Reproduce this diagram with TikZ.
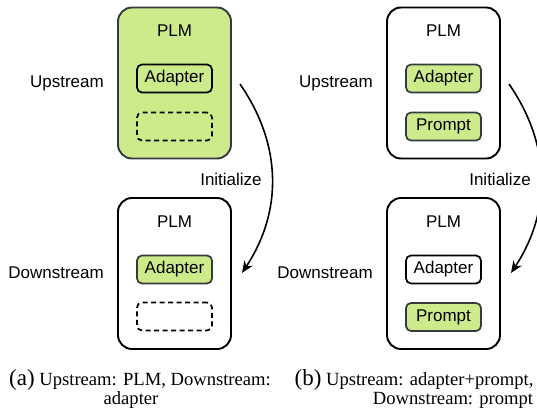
\documentclass[tikz,border=0pt]{standalone}
\usepackage{fontspec}
\setmainfont{Liberation Serif}
\newfontfamily\diagfont{Liberation Sans}
\usetikzlibrary{arrows.meta}
\definecolor{lime}{HTML}{CDEB8B}
\definecolor{limeedge}{HTML}{36393D}
\tikzset{
  outerbox/.style={draw=black, line width=1.9pt, rounded corners=14pt, minimum width=113pt, minimum height=151pt, inner sep=0pt},
  greenouter/.style={outerbox, fill=lime, draw=limeedge},
  modbox/.style={draw=black, line width=1.7pt, rounded corners=5pt, minimum width=75pt, minimum height=28pt, inner sep=0pt, font=\diagfont\fontsize{17}{19}\selectfont},
  greenmod/.style={modbox, fill=lime, draw=limeedge},
  emptybox/.style={modbox, dashed, dash pattern=on 5pt off 3.5pt},
  lbl/.style={font=\diagfont\fontsize{17}{19}\selectfont, inner sep=0pt},
  initarrow/.style={line width=1.6pt, -{Stealth[length=12pt, width=10pt]}},
  captext/.style={font=\fontsize{18.6}{21}\selectfont, inner sep=0pt, align=center},
}
\begin{document}
\begin{tikzpicture}[x=1pt, y=-1pt]
\useasboundingbox (0,0) rectangle (537,412);
% ---- (a) ----
\node[greenouter] (a1) at (174.5,83) {};
\node[lbl] (a1t) at (174.5,31) {PLM};
\node[modbox] (a1m) at (174.5,78.5) {Adapter};
\node[emptybox] (a1e) at (174.5,126.5) {};
\node[lbl, anchor=east] (a1l) at (104,83) {Upstream};

\node[outerbox] (a2) at (174.5,273.5) {};
\node[lbl] (a2t) at (174.5,222) {PLM};
\node[greenmod] (a2m) at (174.5,269.5) {Adapter};
\node[emptybox] (a2e) at (174.5,316.5) {};
\node[lbl, anchor=east] (a2l) at (104,273) {Downstream};

\coordinate (as) at (240,84);
\coordinate (ae) at (242,273);
\draw[initarrow] (as) to[bend left=34] (ae);
\node[lbl, fill=white, inner sep=1pt] (ai) at (231,179) {Initialize};

\node[captext] (acap) at (140,380) {{\fontsize{23}{21}\selectfont(a)} Upstream: PLM, Downstream:};
\node[captext] (acap2) at (131,400) {adapter};

% ---- (b) ----
\node[outerbox] (b1) at (443.5,83) {};
\node[lbl] (b1t) at (443.5,31) {PLM};
\node[greenmod] (b1m) at (443.5,78.5) {Adapter};
\node[greenmod] (b1p) at (443.5,126.5) {Prompt};
\node[lbl, anchor=east] (b1l) at (373,83) {Upstream};

\node[outerbox] (b2) at (443.5,273.5) {};
\node[lbl] (b2t) at (443.5,222) {PLM};
\node[modbox] (b2m) at (443.5,269.5) {Adapter};
\node[greenmod] (b2p) at (443.5,317) {Prompt};
\node[lbl, anchor=east] (b2l) at (373,273) {Downstream};

\coordinate (bs) at (509,84);
\coordinate (be) at (511,273);
\draw[initarrow] (bs) to[bend left=34] (be);
\node[lbl, fill=white, inner sep=1pt] (bi) at (500,179) {Initialize};

\node[captext] (bcap) at (414,380) {{\fontsize{23}{21}\selectfont(b)} Upstream: adapter+prompt,};
\node[captext] (bcap2) at (453,400) {Downstream: prompt};
\end{tikzpicture}
\end{document}
